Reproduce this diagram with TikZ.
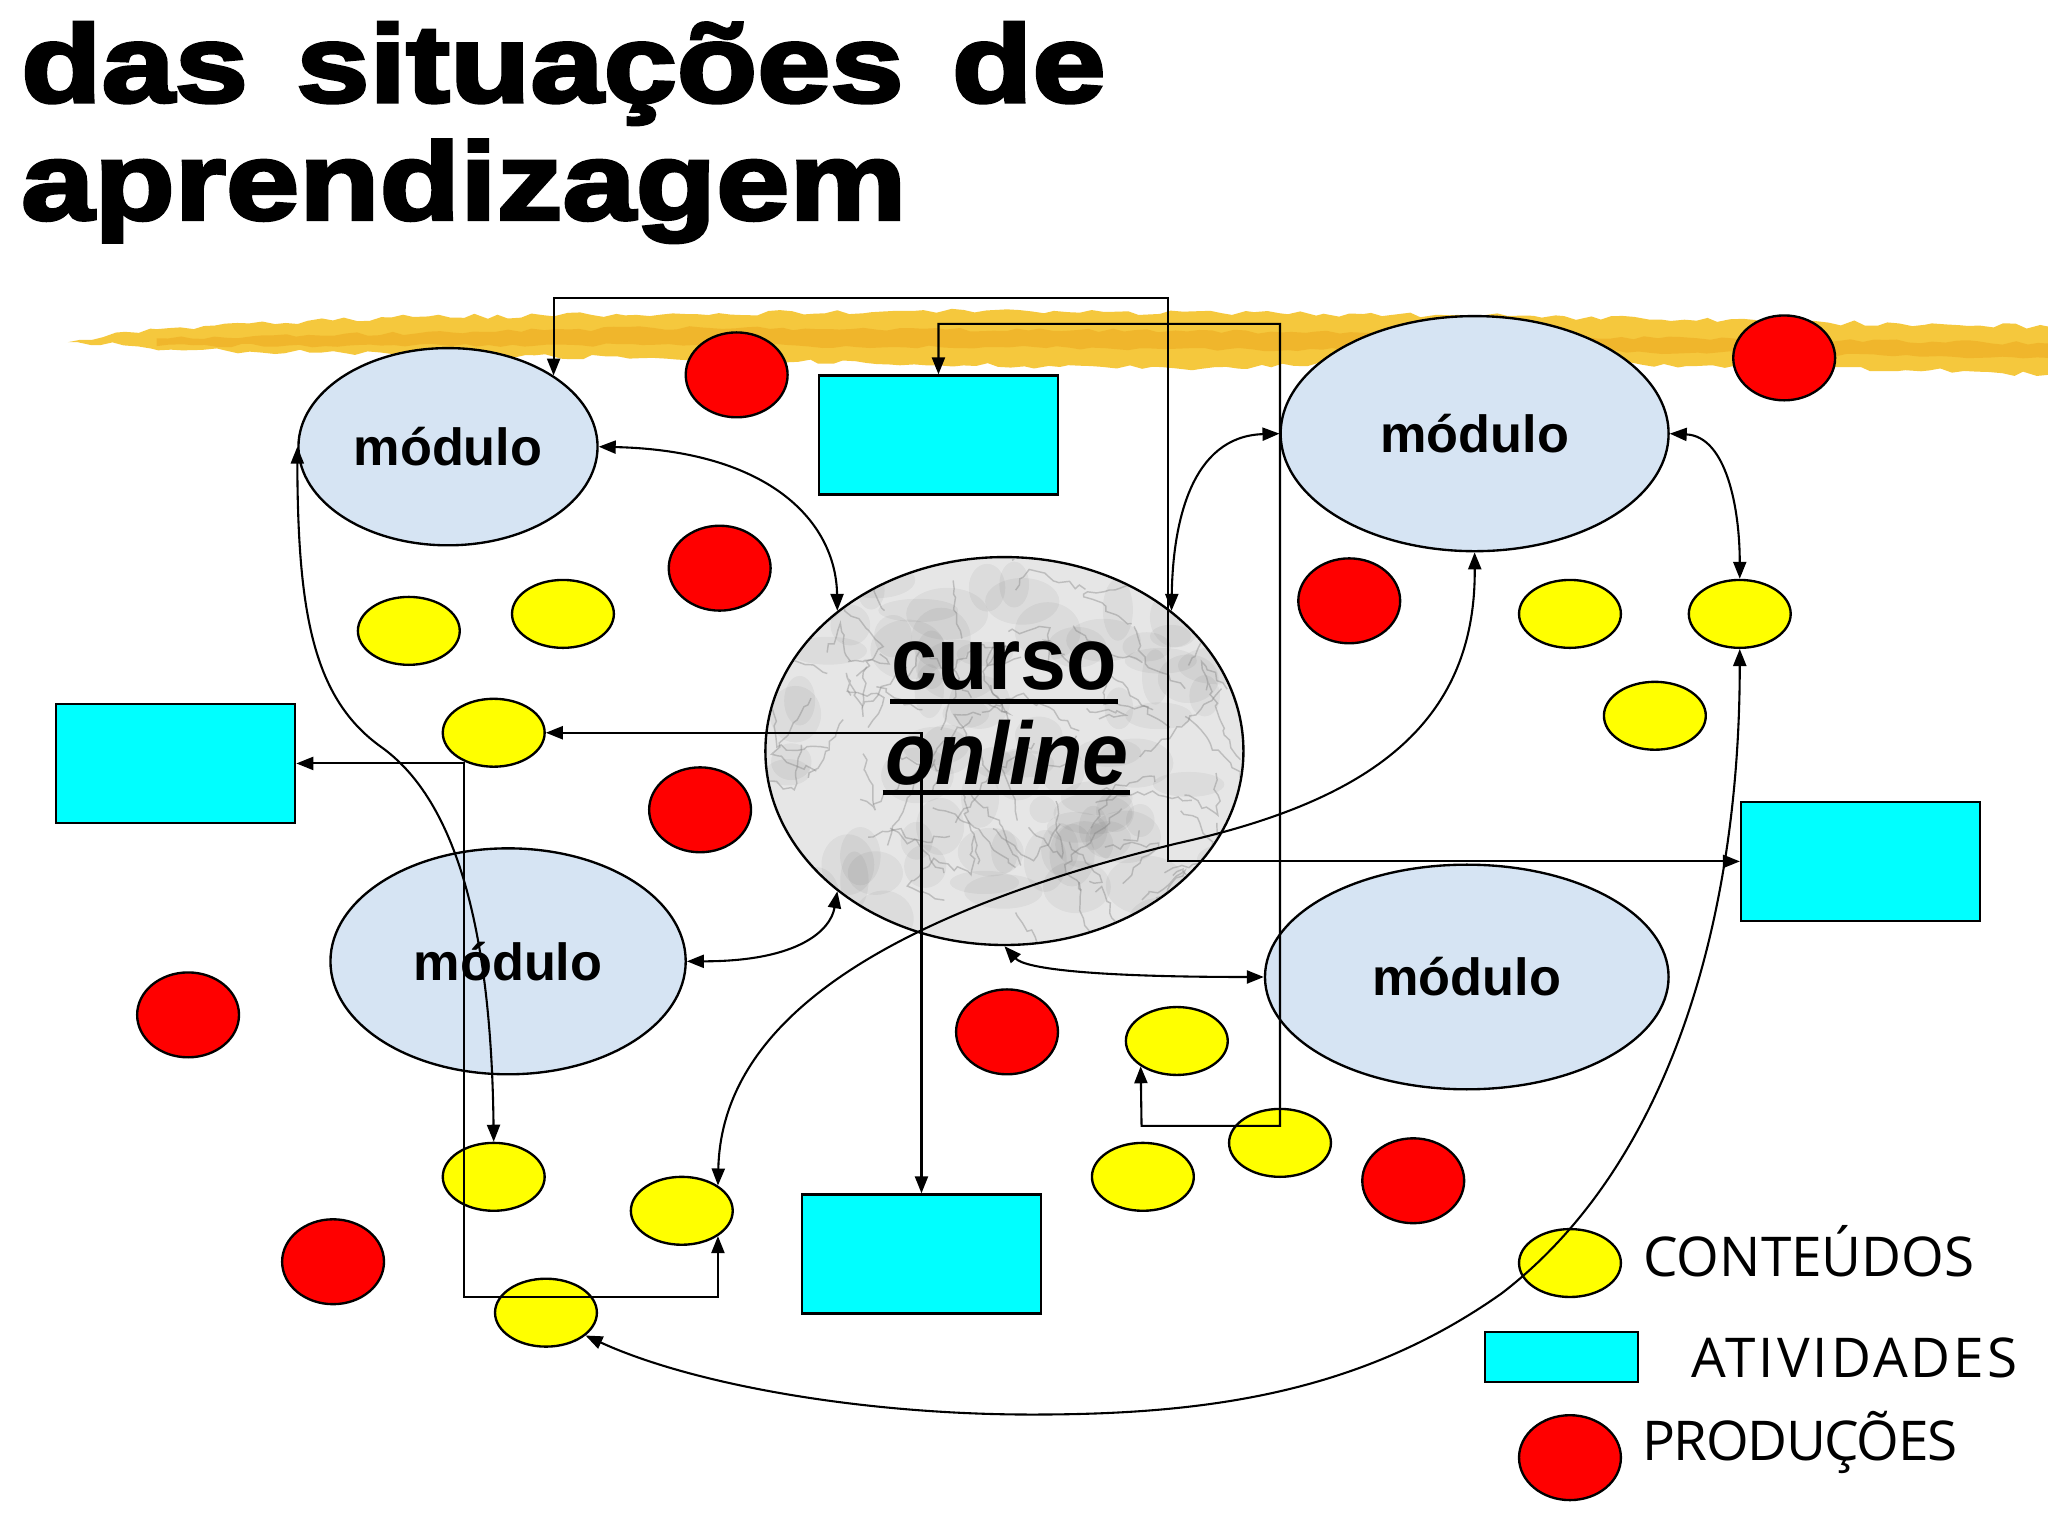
\documentclass[tikz,border=0pt]{standalone}
\usepackage{fontspec}
\setmainfont{Liberation Sans}
\newfontfamily\titlefont{Liberation Sans}[UprightFont={* Bold},FakeStretch=1.2,FakeBold=3.2]
\newfontfamily\cursofont{Liberation Sans}[FakeStretch=0.93]
\newfontfamily\legfont{Open Sans}
\usetikzlibrary{shapes.geometric,arrows.meta,decorations.pathmorphing}
\definecolor{modblue}{RGB}{214,228,243}
\definecolor{marble}{RGB}{230,230,230}
\definecolor{hlA}{RGB}{245,196,45}
\definecolor{hlB}{RGB}{236,166,28}
\definecolor{cyanbox}{RGB}{0,255,255}
\definecolor{redc}{RGB}{255,0,0}
\definecolor{yelc}{RGB}{255,255,0}
\begin{document}
\begin{tikzpicture}[x=1pt,y=-1pt,
  modulo/.style={ellipse, draw, line width=1.8pt, fill=modblue, inner sep=0pt, font=\bfseries\fontsize{40}{40}\selectfont},
  prod/.style={ellipse, draw, line width=1.8pt, fill=redc, minimum width=78pt, minimum height=65pt, inner sep=0pt},
  cont/.style={ellipse, draw, line width=1.8pt, fill=yelc, minimum width=78pt, minimum height=52pt, inner sep=0pt},
  ativ/.style={rectangle, draw, line width=1.8pt, fill=cyanbox, minimum width=183pt, minimum height=91pt, inner sep=0pt},
  conn/.style={line width=1.6pt, >={Triangle[length=13pt,width=10pt]}, <->},
  legtext/.style={anchor=base west, inner sep=0pt, font=\legfont\fontsize{42}{42}\selectfont},
  vein/.style={line width=1.1pt, draw=black!50, opacity=0.4, decorate, decoration={random steps,segment length=5pt,amplitude=2.5pt}},
  cloud/.style={fill=black, opacity=0.045}
]
\fill[white] (0,0) rectangle (1568,1176);
\useasboundingbox (0,0) rectangle (1568,1176);

% title
\node[anchor=base west, inner sep=0pt, font=\titlefont\fontsize{84}{84}\selectfont] (t1) at (16,78) {das\hspace{9pt} situações\hspace{9pt} de};
\node[anchor=base west, inner sep=0pt, font=\titlefont\fontsize{84}{84}\selectfont] (t2) at (16,168) {aprendizagem};

% highlighter stroke
\pgfmathsetseed{7}
\fill[hlA, opacity=0.92, decorate, decoration={random steps,segment length=9pt,amplitude=2pt}]
  (52,262) -- (120,252) -- (300,243) -- (700,238) -- (1100,241) -- (1400,247) -- (1568,250)
  -- (1568,287) -- (1400,281) -- (1100,277) -- (900,282) -- (700,279) -- (500,274) -- (300,271) -- (150,268) -- cycle;
\fill[hlB, opacity=0.5, decorate, decoration={random steps,segment length=9pt,amplitude=1.5pt}]
  (120,259) -- (500,251) -- (900,253) -- (1300,259) -- (1568,263) -- (1568,274) -- (1300,270) -- (900,267) -- (500,264) -- (120,265) -- cycle;

% curso online
\node[ellipse, draw, line width=1.8pt, fill=marble, minimum width=366pt, minimum height=297pt, inner sep=0pt] (co) at (769,575) {};
\begin{scope}
  \clip (769,575) ellipse [x radius=182, y radius=147.5];
  \pgfmathsetseed{42}
  \foreach \i in {1,...,90} {
    \fill[cloud] (769+rand*180, 575+rand*148) ellipse [x radius=10+rnd*22, y radius=8+rnd*16];
  }
  \foreach \i in {1,...,80} {
    \draw[vein] (769+rand*180, 575+rand*148) -- ++(rand*45, rand*45) -- ++(rand*35, rand*35);
  }
\end{scope}
\node[anchor=base, inner sep=0pt, font=\cursofont\bfseries\fontsize{68}{68}\selectfont] (cu) at (769,528) {curso};
\node[anchor=base, inner sep=0pt, font=\cursofont\bfseries\itshape\fontsize{68}{68}\selectfont] (ol) at (771,601) {online};
\draw[line width=4pt] ([xshift=-1pt,yshift=-9pt]cu.base west) -- ([xshift=1pt,yshift=-9pt]cu.base east);
\draw[line width=4pt] ([xshift=-2pt,yshift=-6pt]ol.base west) -- ([xshift=1pt,yshift=-6pt]ol.base east);

% modules
\node[modulo, minimum width=229pt, minimum height=151pt] (m1) at (343,342) {módulo};
\node[modulo, minimum width=297pt, minimum height=180pt] (m2) at (1129,332) {módulo};
\node[modulo, minimum width=272pt, minimum height=173pt] (m3) at (389,736) {módulo};
\node[modulo, minimum width=309pt, minimum height=172pt] (m4) at (1123,748) {módulo};

% activities
\node[ativ] (a1) at (718.5,333) {};
\node[ativ] (a2) at (134.5,584.5) {};
\node[ativ] (a3) at (1424.5,659.5) {};
\node[ativ] (a4) at (705.5,960) {};

% productions
\node[prod] (p1) at (564,287) {};
\node[prod] (p2) at (551,435) {};
\node[prod] (p3) at (1366,274) {};
\node[prod] (p4) at (1033,460) {};
\node[prod] (p5) at (536,620) {};
\node[prod] (p6) at (144,777) {};
\node[prod] (p7) at (771,790) {};
\node[prod] (p8) at (1082,904) {};
\node[prod] (p9) at (255,966) {};

% contents
\node[cont] (y1) at (313,483) {};
\node[cont] (y2) at (431,470) {};
\node[cont] (yE) at (378,561) {};
\node[cont] (y3) at (1202,470) {};
\node[cont] (yA) at (1332,470) {};
\node[cont] (y4) at (1267,548) {};
\node[cont] (yF) at (901,797) {};
\node[cont] (y5) at (980,875) {};
\node[cont] (y6) at (875,901) {};
\node[cont] (yD) at (378,901) {};
\node[cont] (yB) at (522,927) {};
\node[cont] (yC) at (418,1005) {};

% legend
\node[cont] (yL) at (1202,967) {};
\node[ativ, minimum width=117pt, minimum height=38pt] (aL) at (1195.5,1039) {};
\node[prod] (pL) at (1202,1116) {};
\node[legtext] (lc) at (1258,977) {CONTEÚDOS};
\node[legtext] (la) at (1295,1055) {\addfontfeatures{LetterSpace=5.5}ATIVIDADES};
\node[legtext] (lp) at (1257,1118) {\addfontfeatures{LetterSpace=-2.5}PRODUÇÕES};

% routing coordinates
\coordinate (k1) at (894,228);
\coordinate (k2) at (980,248);
\coordinate (k3) at (874,862);
\coordinate (k4) at (355,993);
\coordinate (k5) at (900,646);
\coordinate (k6) at (1150,990);
\coordinate (k7) at (790,1083);
\coordinate (k8) at (292,572);

% connectors
\draw[conn] (m1.34) |- (k1) |- (a3.west);
\draw[conn] (a1.north) |- (k2) |- (k3) -- (yF.215);
\draw[conn] (m1.east) .. controls (590,345) and (640,400) .. (co.140);
\draw[conn] (co.40) .. controls (898,400) and (912,334) .. (m2.west);
\draw[conn] (m2.east) .. controls (1322,334) and (1332,390) .. (yA.north);
\draw[conn] (m2.south) .. controls (1130,560) and (1040,615) .. (k5) .. controls (640,710) and (552,800) .. (yB.35);
\draw[conn] (yA.south) .. controls (1332,700) and (1280,890) .. (k6) .. controls (1040,1068) and (920,1083) .. (k7) .. controls (660,1083) and (530,1060) .. (yC.-30);
\draw[conn] (m1.west) .. controls (228,470) and (240,535) .. (k8) .. controls (345,610) and (376,700) .. (yD.north);
\draw[conn] (yE.east) -| (a4.north);
\draw[conn] (a2.east) -| (k4) -| (yB.-35);
\draw[conn] (m3.east) .. controls (612,736) and (636,712) .. (co.220);
\draw[conn] (co.270) .. controls (785,742) and (840,748) .. (m4.west);
\end{tikzpicture}
\end{document}
